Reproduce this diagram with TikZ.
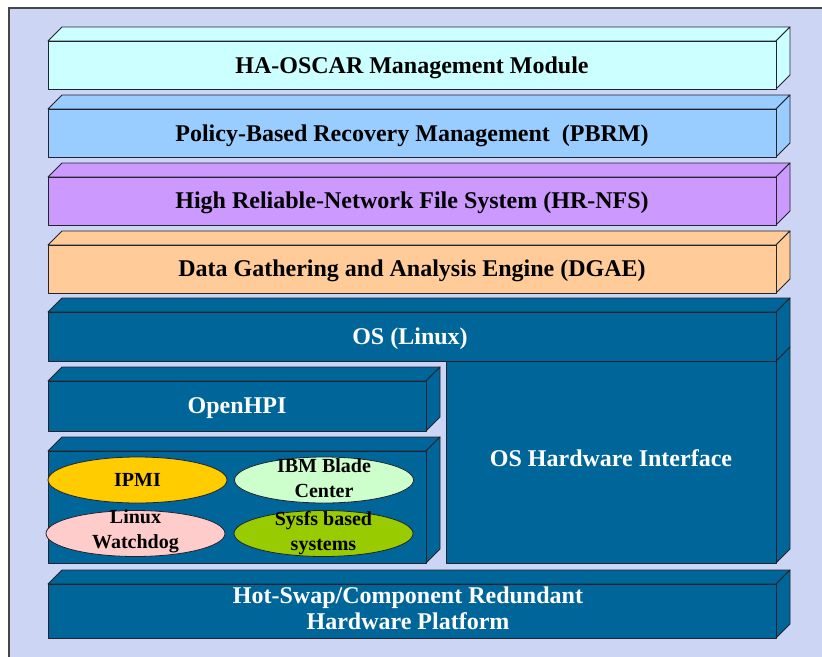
\documentclass[tikz,border=0pt]{standalone}
\usepackage{fontspec}
\setmainfont{Liberation Serif}
\usetikzlibrary{shapes.geometric}

\definecolor{panel}{RGB}{204,214,244}
\definecolor{panelrule}{RGB}{70,70,70}
\definecolor{edge}{RGB}{35,35,45}
\definecolor{cyanbox}{RGB}{204,255,255}
\definecolor{skybox}{RGB}{153,204,255}
\definecolor{lilacbox}{RGB}{204,153,255}
\definecolor{peachbox}{RGB}{255,204,153}
\definecolor{navybox}{RGB}{0,102,153}
\definecolor{goldoval}{RGB}{255,204,0}
\definecolor{mintoval}{RGB}{204,255,204}
\definecolor{pinkoval}{RGB}{255,204,204}
\definecolor{limeoval}{RGB}{153,204,0}

\tikzset{
  face/.style={draw=edge, line width=0.9pt, line join=round},
  lbl/.style={font=\fontsize{24}{26}\selectfont\bfseries, text=black, inner sep=0pt, align=center},
  wlbl/.style={lbl, text=white},
  oval/.style={ellipse, draw=edge, line width=0.8pt, minimum width=179pt, minimum height=46pt, inner sep=0pt},
  otxt/.style={font=\fontsize{20}{25}\selectfont\bfseries, text=black, inner sep=0pt, align=center}
}

% a slab seen from the front right: front face (x1,y1)-(x2,y2), top and right faces 14 deep
\newcommand\slab[5]{%
  \filldraw[face, fill=#5] (#1,#2) -- ++(14,-14) -- (#3+14,#2-14) -- (#3,#2) -- cycle;
  \filldraw[face, fill=#5] (#3,#2) -- ++(14,-14) -- (#3+14,#4-14) -- (#3,#4) -- cycle;
  \filldraw[face, fill=#5] (#1,#2) rectangle (#3,#4);
}

\begin{document}
\begin{tikzpicture}[x=1pt, y=-1pt]
  \useasboundingbox (0,0) rectangle (822,656);
  \clip (0,0) rectangle (822,656);

  % backdrop
  \fill[panel] (9,8) rectangle (830,670);
  \draw[panelrule, line width=1.8pt] (9,670) -- (9,8) -- (830,8);

  % layer stack
  \slab{48}{41}{776}{89}{cyanbox}
  \slab{48}{109}{776}{157}{skybox}
  \slab{48}{177}{776}{225}{lilacbox}
  \slab{48}{245}{776}{293}{peachbox}

  % hardware interface column, under the OS slab
  \filldraw[face, fill=navybox] (776,361) -- (790,347) -- (790,549) -- (776,563) -- cycle;
  \filldraw[face, fill=navybox] (446,361) rectangle (776,563);
  \slab{48}{312}{776}{361}{navybox}

  \slab{48}{381}{426}{431}{navybox}
  \slab{48}{451}{426}{563}{navybox}
  \slab{48}{584}{776}{638}{navybox}

  % labels of the slabs
  \node[lbl] (ha) at (412,68) {HA-OSCAR Management Module};
  \node[lbl] (pbrm) at (412,136) {Policy-Based Recovery Management~~(PBRM)};
  \node[lbl] (nfs) at (412,203) {High Reliable-Network File System (HR-NFS)};
  \node[lbl] (dgae) at (412,271) {Data Gathering and Analysis Engine (DGAE)};
  \node[wlbl] (os) at (410,339) {OS (Linux)};
  \node[wlbl] (hpi) at (237,408) {OpenHPI};
  \node[wlbl] (hwi) at (611,458) {OS Hardware Interface};
  \node[wlbl] (hs) at (408,608) {Hot-Swap/Component Redundant\\Hardware Platform};

  % hardware back-ends
  \node[oval, fill=goldoval] (ipmi) at (137.5,480) {};
  \node[oval, fill=mintoval] (ibm) at (324,480) {};
  \node[oval, fill=pinkoval] (wdog) at (135.5,533.5) {};
  \node[oval, fill=limeoval] (sysfs) at (323.5,533.5) {};
  \node[otxt] (ipmiT) at (ipmi) {IPMI};
  \node[otxt] (ibmT) at (324,478.5) {IBM Blade\\Center};
  \node[otxt] (wdogT) at (135.5,531.5) {Linux\\Watchdog};
  \node[otxt] (sysfsT) at (323.5,533) {Sysfs based\\systems};
\end{tikzpicture}
\end{document}
